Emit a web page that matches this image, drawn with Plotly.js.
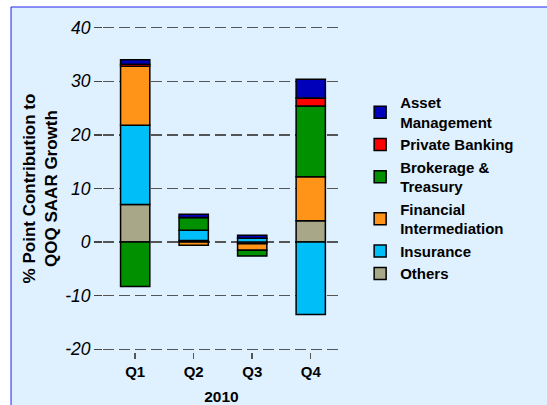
<!DOCTYPE html>
<html>
<head>
<meta charset="utf-8">
<script src="https://cdn.plot.ly/plotly-3.0.1.min.js"></script>
<style>
html,body{margin:0;padding:0;background:#ffffff;}
#chart{width:547px;height:405px;}
</style>
</head>
<body>
<div id="chart"></div>
<script>
const quarters = ["Q1", "Q2", "Q3", "Q4"];
const others = [7.0, 0.3, -0.3, 4.0];
const insurance = [14.8, 1.9, 0.7, -13.5];
const financial = [11.0, -0.6, -1.2, 8.2];
const brokerage = [-8.3, 2.4, -1.1, 13.2];
const privateBanking = [0.4, 0.0, 0.0, 1.5];
const assetMgmt = [0.8, 0.6, 0.6, 3.5];

const seriesNames = ["Others", "Insurance", "Financial<br>Intermediation", "Brokerage &<br>Treasury", "Private Banking", "Asset<br>Management"];
const seriesValues = [others, insurance, financial, brokerage, privateBanking, assetMgmt];
const seriesColors = ["#a8a888", "#00bff8", "#ff9418", "#009000", "#ff0000", "#0000bb"];
const yTickVals = [-20, -10, 0, 10, 20, 30, 40];

const traces = seriesNames.map((n, i) => ({
  type: "bar",
  name: n,
  x: quarters,
  y: seriesValues[i],
  width: 0.5,
  marker: {color: seriesColors[i], line: {color: "#000000", width: 1.5}},
  hoverinfo: "skip"
}));

const font = "Liberation Sans, Arial, sans-serif";
const layout = {
  width: 547, height: 405,
  margin: {l: 103, r: 207, t: 25, b: 53},
  paper_bgcolor: "#ffffff",
  plot_bgcolor: "rgba(0,0,0,0)",
  barmode: "relative",
  showlegend: true,
  font: {family: font, color: "#000000"},
  xaxis: {
    type: "category",
    range: [-0.55, 3.5],
    ticks: "outside", ticklen: 6, tickwidth: 1.5, tickcolor: "#555555",
    ticklabelstandoff: 0,
    showgrid: false, zeroline: false, showline: false,
    tickfont: {family: font, size: 15, weight: "bold", color: "#000000"},
    title: {text: "<b>2010</b>", font: {family: font, size: 15.5}, standoff: 13}
  },
  yaxis: {
    range: [-20.5, 40.5],
    tickvals: yTickVals,
    ticktext: yTickVals.map(v => "<i>" + v + "</i>"),
    ticks: "outside", ticklen: 8, tickwidth: 1.5, tickcolor: "#444444",
    showgrid: true, gridcolor: "#555555", gridwidth: 1.3, griddash: "11px,5px",
    zeroline: false, showline: false,
    tickfont: {family: font, size: 17.5, color: "#000000"},
    title: {text: "<b>% Point Contribution to<br>QOQ SAAR Growth</b>", font: {family: font, size: 17}, standoff: 3}
  },
  legend: {
    x: 1.085, y: 0.813, xanchor: "left", yanchor: "top",
    traceorder: "reversed",
    bgcolor: "rgba(0,0,0,0)",
    font: {family: font, size: 15, weight: "bold", color: "#000000"},
    itemwidth: 30
  },
  shapes: [{
    type: "rect", xref: "paper", yref: "paper", layer: "below",
    x0: -0.388, x1: 2.0, y0: -0.3, y1: 1.055,
    fillcolor: "#dff0ff", line: {color: "#2222ee", width: 1}
  }]
};

Plotly.newPlot("chart", traces, layout, {displayModeBar: false, staticPlot: true});
</script>
</body>
</html>
